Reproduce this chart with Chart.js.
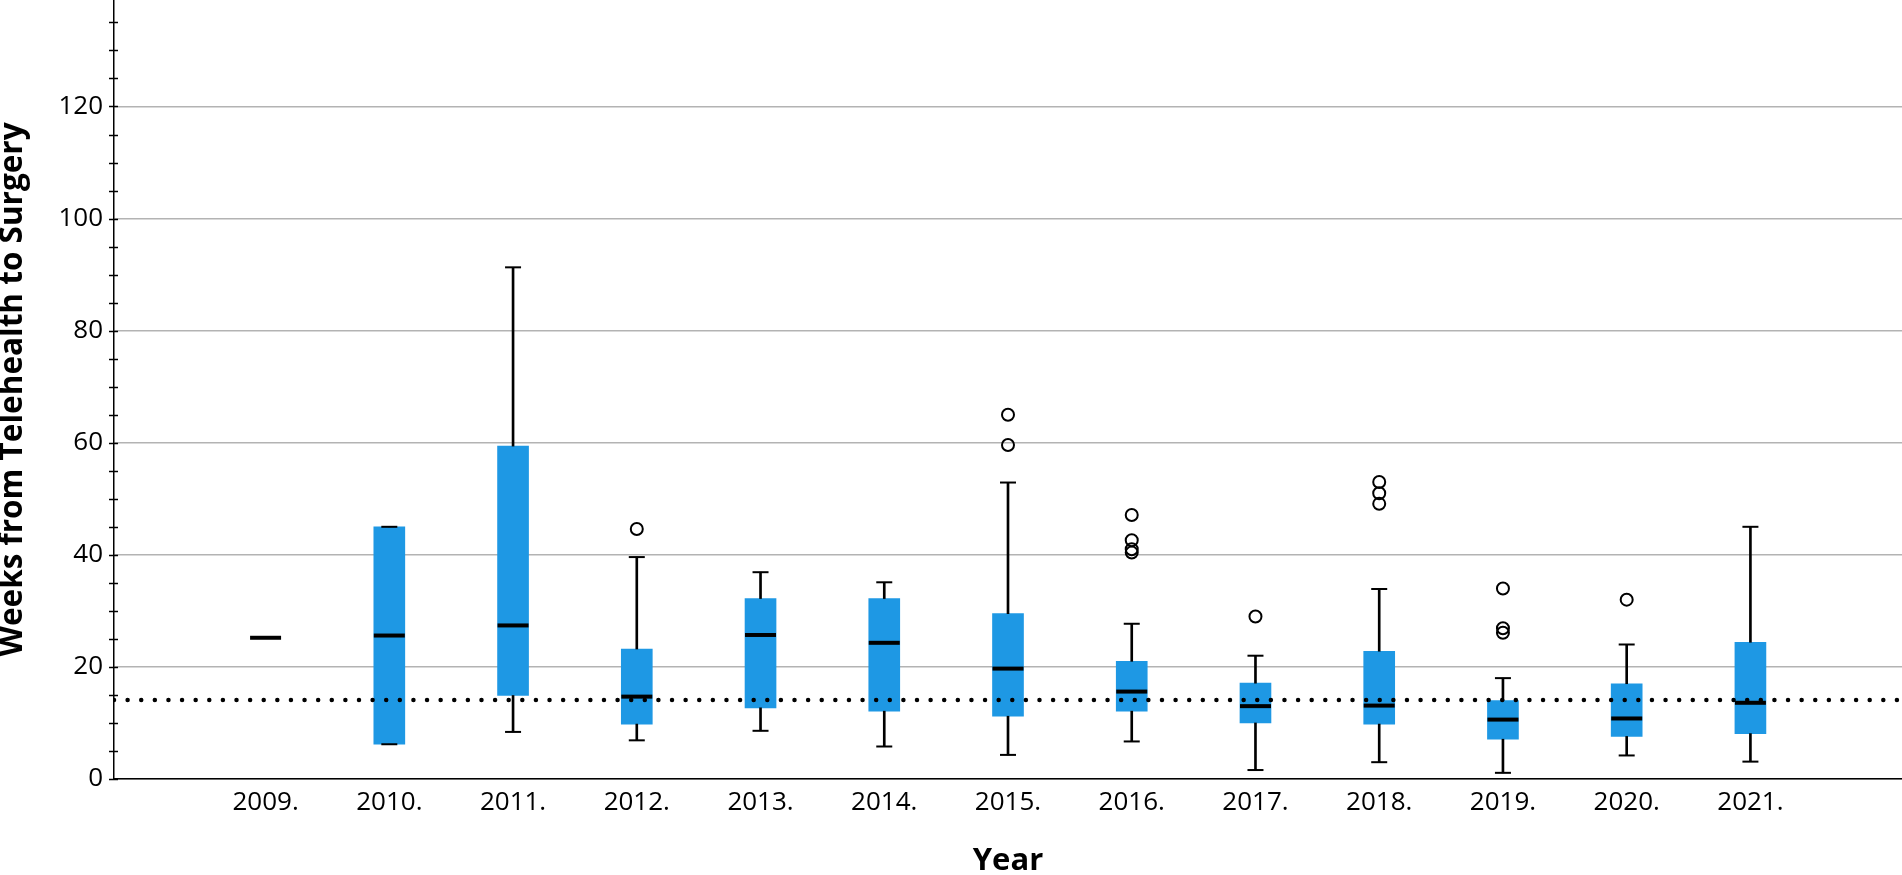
<!DOCTYPE html>
<html>
<head>
<meta charset="utf-8">
<script src="https://cdn.jsdelivr.net/npm/chart.js@4"></script>
<style>
  html, body { margin: 0; padding: 0; background: #fff; }
  canvas { display: block; }
</style>
</head>
<body>
<canvas id="myChart" width="1902" height="875"></canvas>
<script>
(function () {
  'use strict'

// dados
var years      = [2009, 2010, 2011, 2012, 2013, 2014, 2015, 2016, 2017, 2018, 2019, 2020, 2021]
var q1         = [null, 6.2, 14.9, 9.8, 12.7, 12.1, 11.2, 12.1, 10.0, 9.8, 7.1, 7.6, 8.1]
var q3         = [null, 45.0, 59.4, 23.2, 32.2, 32.2, 29.5, 21.0, 17.1, 22.8, 14.0, 17.0, 24.4]
var medians    = [25.2, 25.6, 27.4, 14.7, 25.7, 24.3, 19.7, 15.6, 13.0, 13.1, 10.6, 10.8, 13.6]
var whiskerLow = [null, 6.2, 8.4, 6.9, 8.6, 5.8, 4.3, 6.7, 1.6, 3.0, 1.1, 4.2, 3.1]
var whiskerHigh = [null, 45.0, 91.3, 39.6, 36.9, 35.1, 52.9, 27.7, 22.0, 33.9, 18.0, 24.0, 45.0]

var outlierYear  = [2012, 2015, 2015, 2016, 2016, 2016, 2016, 2017, 2018, 2018, 2018, 2019, 2019, 2019, 2020]
var outlierValue = [44.6, 65.0, 59.6, 47.1, 42.6, 41.0, 40.4, 29.0, 53.0, 51.0, 49.1, 34.0, 26.9, 26.1, 32.0]

var refLine = 14.1
var yTicks = [0, 20, 40, 60, 80, 100, 120]

var xMin = 2007.775
var xMax = 2022.225
var yMax = 139

var blue = '#1e98e4'

// montar os pontos
var boxes = [], lowW = [], highW = [], caps = [], meds = [], outs = []
years.forEach(function (yr, i) {
  meds.push({ x: yr, y: medians[i] })
  if (q1[i] !== null) {
    boxes.push({ x: yr, y: [q1[i], q3[i]] })
    lowW.push({ x: yr, y: [whiskerLow[i], q1[i]] })
    highW.push({ x: yr, y: [q3[i], whiskerHigh[i]] })
    caps.push({ x: yr, y: whiskerLow[i] })
    caps.push({ x: yr, y: whiskerHigh[i] })
  }
})
outlierYear.forEach(function (yr, i) {
  outs.push({ x: yr, y: outlierValue[i] })
})

// tracinhos menores do eixo y (a cada 5)
const minorTicks = {
  id: 'minorTicks',
  afterDraw(chart) {
    const y = chart.scales.y
    const c = chart.ctx
    c.save()
    c.strokeStyle = '#000'
    c.lineWidth = 1.5
    for (let v = 0; v <= yMax; v += 5) {
      const py = Math.round(y.getPixelForValue(v)) + 0.5
      c.beginPath()
      c.moveTo(y.right - 5, py)
      c.lineTo(y.right + 4, py)
      c.stroke()
    }
    c.restore()
  }
}

const ctx = document.getElementById('myChart').getContext('2d')

new Chart(ctx, {
  type: 'bar',
  data: {
    datasets: [
      {
        type: 'scatter',
        data: outs,
        pointStyle: 'circle',
        pointRadius: 6,
        pointBorderWidth: 2,
        pointBackgroundColor: 'rgba(255,255,255,0)',
        pointBorderColor: '#000',
        order: 1
      },
      {
        type: 'line',
        data: [{ x: xMin, y: refLine }, { x: xMax, y: refLine }],
        borderColor: '#000',
        borderWidth: 4.5,
        borderDash: [0.01, 13.6],
        borderCapStyle: 'round',
        pointRadius: 0,
        fill: false,
        order: 2
      },
      {
        type: 'scatter',
        data: meds,
        pointStyle: 'line',
        pointRadius: 15.5,
        pointBorderWidth: 4,
        pointBorderColor: '#000',
        order: 3
      },
      {
        type: 'scatter',
        data: caps,
        pointStyle: 'line',
        pointRadius: 8,
        pointBorderWidth: 2,
        pointBorderColor: '#000',
        order: 4
      },
      {
        type: 'bar',
        data: lowW,
        backgroundColor: '#000',
        barThickness: 2,
        grouped: false,
        order: 5
      },
      {
        type: 'bar',
        data: highW,
        backgroundColor: '#000',
        barThickness: 2,
        grouped: false,
        order: 5
      },
      {
        type: 'bar',
        data: boxes,
        backgroundColor: blue,
        barThickness: 31,
        grouped: false,
        order: 6
      }
    ]
  },
  options: {
    responsive: false,
    animation: false,
    layout: { padding: 0, autoPadding: false },
    plugins: {
      legend: { display: false },
      tooltip: { enabled: false }
    },
    scales: {
      x: {
        type: 'linear',
        min: xMin,
        max: xMax,
        offset: false,
        grid: { display: false, drawTicks: false },
        border: { display: true, color: '#000', width: 1.5 },
        afterBuildTicks: function (s) { s.ticks = years.map(function (v) { return { value: v } }) },
        ticks: {
          padding: 8,
          color: '#000',
          font: { family: 'Open Sans', size: 26 },
          maxRotation: 0,
          autoSkip: false,
          callback: function (v) { return v + '.' }
        },
        title: {
          display: true,
          text: 'Year',
          color: '#000',
          font: { family: 'Open Sans', size: 31, weight: 'bold', lineHeight: 0.87 },
          padding: { top: 0, bottom: 0 }
        },
        afterFit: function (s) { s.height = 96; s.paddingLeft = 0; s.paddingRight = 0 }
      },
      y: {
        min: 0,
        max: yMax,
        grid: { color: '#b3b3b3', lineWidth: 1.5, drawTicks: false },
        border: { display: true, color: '#000', width: 1.5 },
        afterBuildTicks: function (s) { s.ticks = yTicks.map(function (v) { return { value: v } }) },
        ticks: {
          padding: 11,
          color: '#000',
          font: { family: 'Open Sans', size: 26 }
        },
        title: {
          display: true,
          text: 'Weeks from Telehealth to Surgery',
          color: '#000',
          font: { family: 'Open Sans', size: 31.5, weight: 'bold', lineHeight: 0.84 },
          padding: { top: 0, bottom: 0 }
        },
        afterFit: function (s) { s.width = 114; s.paddingTop = 0; s.paddingBottom = 0 }
      }
    }
  },
  plugins: [minorTicks]
})

})()
</script>
</body>
</html>
